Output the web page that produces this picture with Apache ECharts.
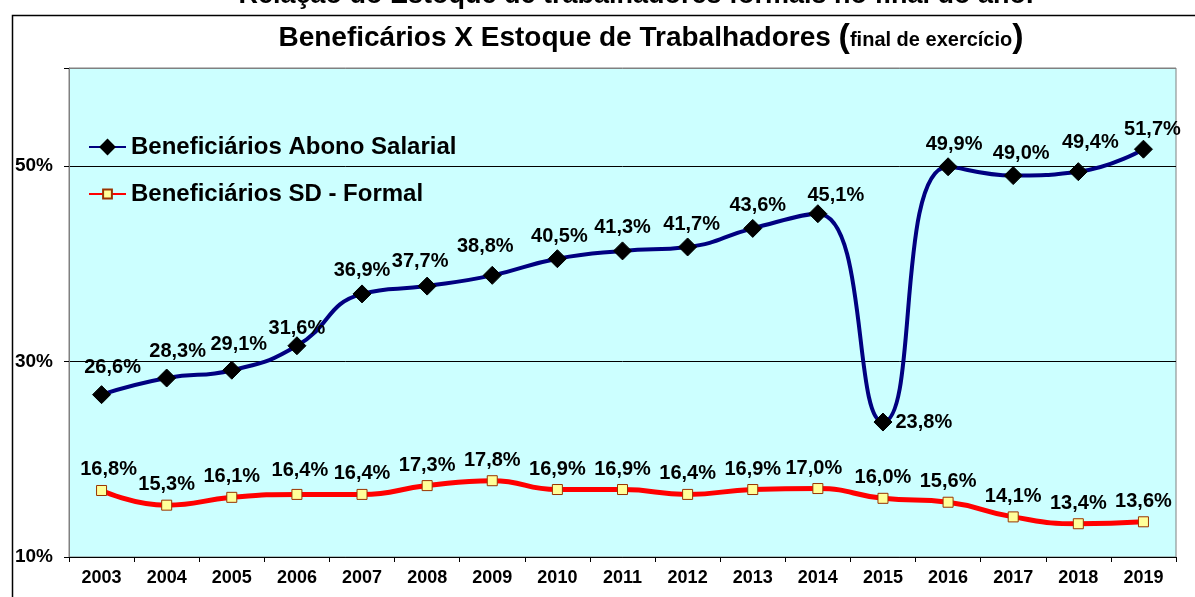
<!DOCTYPE html>
<html>
<head>
<meta charset="utf-8">
<script src="https://cdn.jsdelivr.net/npm/echarts@6/dist/echarts.min.js"></script>
<style>html,body{margin:0;padding:0;background:#fff;}#c{width:1195px;height:597px;}</style>
</head>
<body>
<div id="c"></div>
<script>
var years = ['2003','2004','2005','2006','2007','2008','2009','2010','2011','2012','2013','2014','2015','2016','2017','2018','2019'];
var abono = [26.6, 28.3, 29.1, 31.6, 36.9, 37.7, 38.8, 40.5, 41.3, 41.7, 43.6, 45.1, 23.8, 49.9, 49.0, 49.4, 51.7];
var sdFormal = [16.8, 15.3, 16.1, 16.4, 16.4, 17.3, 17.8, 16.9, 16.9, 16.4, 16.9, 17.0, 16.0, 15.6, 14.1, 13.4, 13.6];
var yTicks = [10, 30, 50];
var seriesNames = ['Beneficiários Abono Salarial', 'Beneficiários SD - Formal'];
var topText = 'Relação do Estoque de trabalhadores formais no final do ano.';

// label placement tweaks (style only)
var abonoLabelAdj = [[11,-5],[11,-4],[7,-3],[0,5],[0,-1],[-7,-2],[-7,-6],[2,0],[0,-1],[4,0],[5,0],[18,4],'right',[6,0],[8,0],[12,-7],[9,3]];
var sdLabelAdj = [[7,-1],[0,0],[0,0],[3,-3],[0,0],[0,0],[0,0],[0,0],[0,0],[0,0],[0,0],[-4,0],[0,0],[0,0],[0,0],[0,0],[0,0]];

function fmt(v){ return v.toFixed(1).replace('.', ',') + '%'; }

function build(vals, adj){
  return vals.map(function(v, i){
    var a = adj[i];
    if (a === 'right') return {value: v, label: {position: 'right', distance: 3, offset: [0, 0]}};
    return {value: v, label: {offset: a}};
  });
}

var FF = '"Liberation Sans", Arial, sans-serif';
var labelFont = {fontFamily: 'Liberation Sans, Arial, sans-serif', fontWeight: 'bold', fontSize: 20, color: '#000'};
var legendText = {fontFamily: 'Liberation Sans, Arial, sans-serif', fontWeight: 'bold', fontSize: 24, color: '#000'};

var chart = echarts.init(document.getElementById('c'), null, {renderer: 'canvas'});
chart.setOption({
  animation: false,
  backgroundColor: '#ffffff',
  textStyle: {fontFamily: 'Liberation Sans, Arial, sans-serif'},
  graphic: [
    {type: 'rect', left: 10, top: 13, shape: {width: 1200, height: 600}, style: {fill: 'none', stroke: '#000', lineWidth: 1.5}, z: -1, silent: true},
    {type: 'text', x: 636, y: 9, style: {text: topText, font: 'bold 27px ' + FF, fill: '#000', align: 'center', verticalAlign: 'bottom'}},
    {type: 'text', x: 651, y: 38, style: {
      text: '{a|Beneficários X Estoque de Trabalhadores }{p|(}{s|final de exercício}{p|)}',
      align: 'center', verticalAlign: 'middle',
      rich: {
        a: {font: 'bold 28px ' + FF, fill: '#000', verticalAlign: 'middle'},
        p: {font: 'bold 34px ' + FF, fill: '#000', verticalAlign: 'middle'},
        s: {font: 'bold 20px ' + FF, fill: '#000', verticalAlign: 'middle', padding: [5,0,0,0]}
      }
    }}
  ],
  legend: [
    {
      orient: 'vertical', left: 83, top: 130, padding: 5,
      itemWidth: 37, itemHeight: 21,
      textStyle: legendText,
      data: [seriesNames[0]]
    },
    {
      orient: 'vertical', left: 83, top: 177, padding: 5,
      itemWidth: 37, itemHeight: 11,
      textStyle: legendText,
      data: [seriesNames[1]]
    }
  ],
  grid: {left: 69, right: 19, top: 68, bottom: 40, show: true, backgroundColor: '#CCFFFF', borderColor: '#808080', borderWidth: 1},
  xAxis: {
    type: 'category', data: years, boundaryGap: true,
    axisLine: {lineStyle: {color: '#000', width: 1}},
    axisTick: {show: true, length: 5, inside: false, lineStyle: {color: '#000'}},
    axisLabel: {fontFamily: 'Liberation Sans, Arial, sans-serif', fontWeight: 'bold', fontSize: 18, color: '#000', margin: 12}
  },
  yAxis: {
    type: 'value', min: 10, max: 60, interval: 20,
    axisLine: {show: true, lineStyle: {color: '#808080'}},
    axisTick: {show: true, length: 5, lineStyle: {color: '#000'}},
    splitLine: {show: true, lineStyle: {color: ['#000', '#000', '#000', '#808080'], width: 1}},
    axisLabel: {
      fontFamily: 'Liberation Sans, Arial, sans-serif', fontWeight: 'bold', fontSize: 19, color: '#000', margin: 16,
      formatter: function(v){ return yTicks.indexOf(v) >= 0 ? v + '%' : ''; }
    }
  },
  series: [
    {
      name: seriesNames[0], type: 'line', smooth: 0.5,
      data: build(abono, abonoLabelAdj),
      lineStyle: {color: '#000080', width: 4},
      itemStyle: {color: '#000', borderColor: '#000'},
      symbol: 'diamond', symbolSize: 18,
      label: Object.assign({show: true, position: 'top', distance: 3, formatter: function(p){ return fmt(p.value); }}, labelFont),
      z: 3
    },
    {
      name: seriesNames[1], type: 'line', smooth: 0.5,
      data: build(sdFormal, sdLabelAdj),
      lineStyle: {color: '#FF0000', width: 5},
      itemStyle: {color: '#FFFF99', borderColor: '#993300', borderWidth: 1},
      symbol: 'rect', symbolSize: 10,
      label: Object.assign({show: true, position: 'top', distance: 5, formatter: function(p){ return fmt(p.value); }}, labelFont),
      z: 2
    }
  ]
});
</script>
</body>
</html>
